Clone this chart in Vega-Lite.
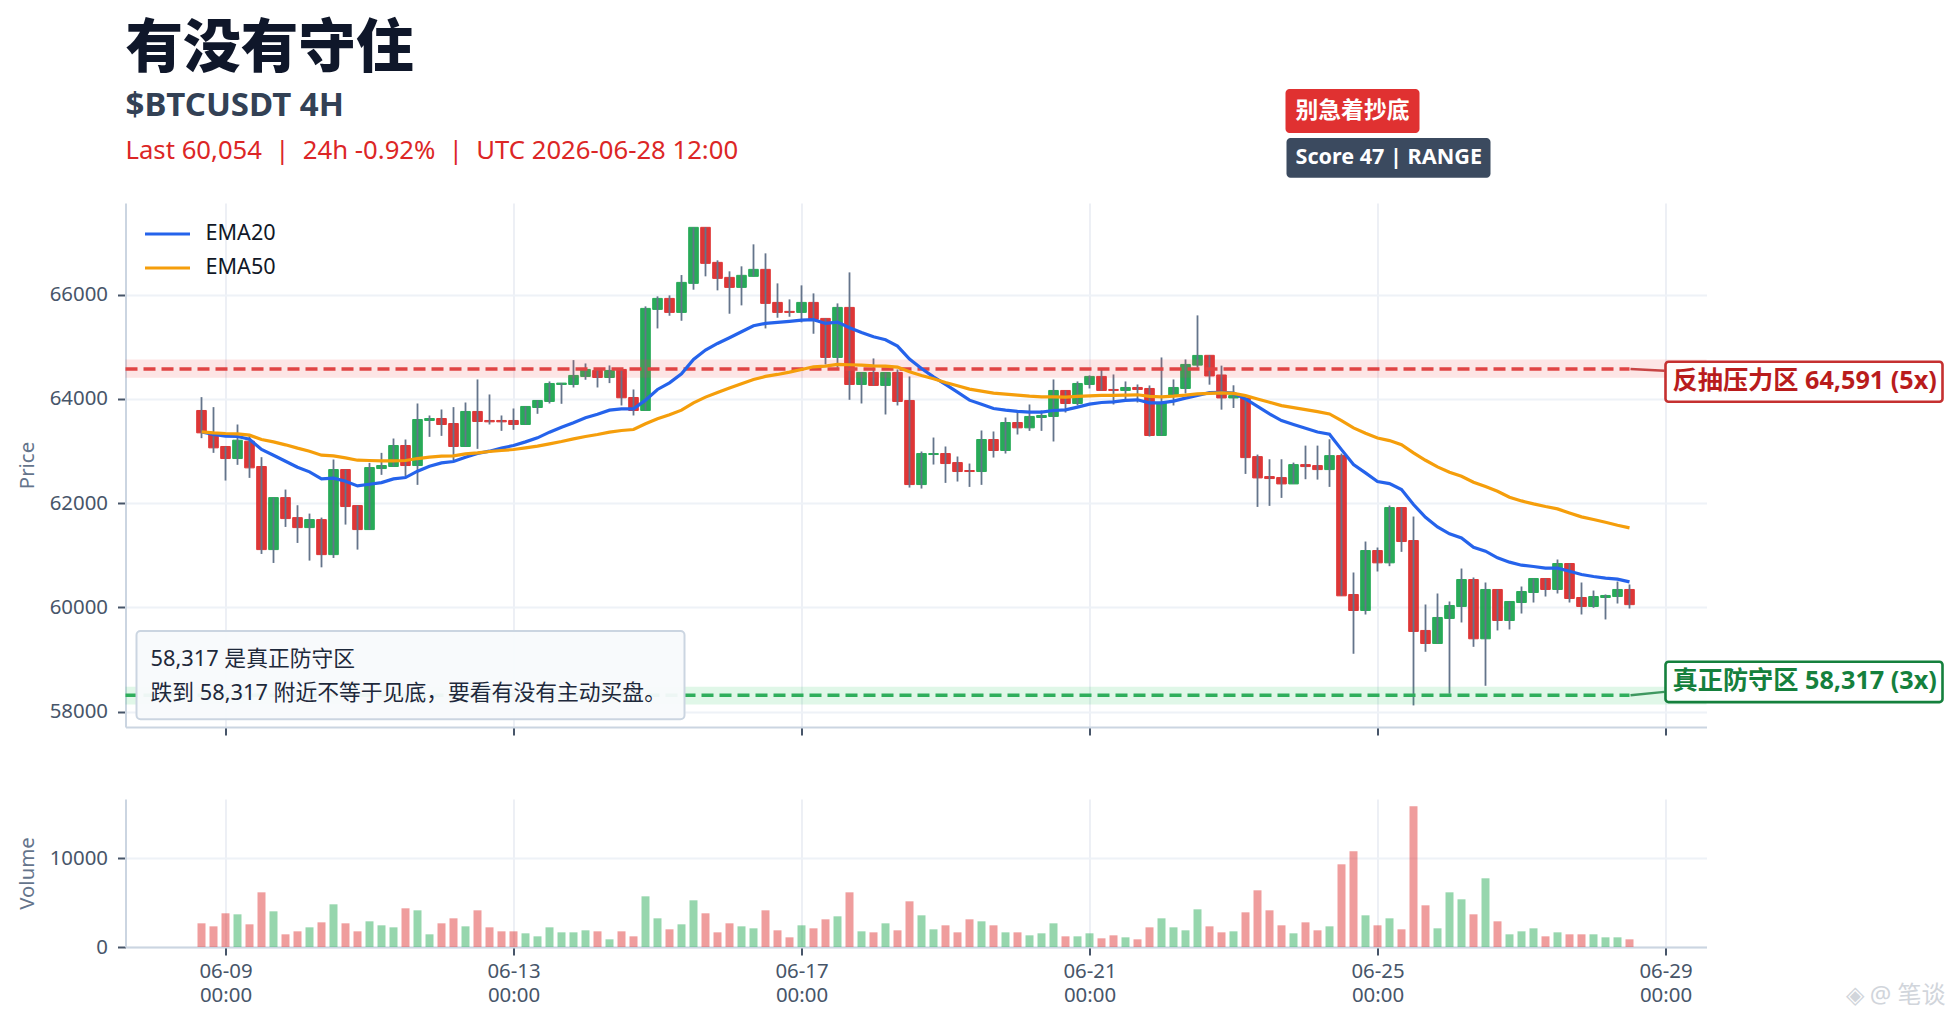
{
"$schema":"https://vega.github.io/schema/vega-lite/v6.json",
"padding":{"left":17.5,"top":20,"right":6,"bottom":17},
"background":"white",
"bounds":"flush",
"spacing":72,
"config":{"view":{"stroke":null},"font":"Noto Sans, Noto Sans CJK SC","text":{"font":"Noto Sans, Noto Sans CJK SC"},
"axis":{"labelFont":"Noto Sans, Noto Sans CJK SC","titleFont":"Noto Sans, Noto Sans CJK SC","labelFontSize":20.4,"labelColor":"#475569","titleFontSize":20.4,"titleColor":"#64748b","titleFontWeight":"normal","domainColor":"#cbd5e1","domainWidth":2,"tickColor":"#475569","tickWidth":2,"tickSize":8,"labelPadding":10}},
"datasets":{"ohlc":[
{"t":"2026-06-08T16:00:00Z","o":63779,"h":64035,"l":63248,"c":63350,"v":2670,"EMA20":63369,"EMA50":63369},
{"t":"2026-06-08T20:00:00Z","o":63350,"h":63843,"l":62966,"c":63062,"v":2330,"EMA20":63318,"EMA50":63350},
{"t":"2026-06-09T00:00:00Z","o":63088,"h":63088,"l":62435,"c":62857,"v":3800,"EMA20":63286,"EMA50":63337},
{"t":"2026-06-09T04:00:00Z","o":62857,"h":63510,"l":62736,"c":63209,"v":3685,"EMA20":63280,"EMA50":63331},
{"t":"2026-06-09T08:00:00Z","o":63190,"h":63318,"l":62486,"c":62678,"v":2557,"EMA20":63228,"EMA50":63305},
{"t":"2026-06-09T12:00:00Z","o":62704,"h":62883,"l":61027,"c":61110,"v":6166,"EMA20":63030,"EMA50":63222},
{"t":"2026-06-09T16:00:00Z","o":61110,"h":62108,"l":60854,"c":62108,"v":4023,"EMA20":62921,"EMA50":63177},
{"t":"2026-06-09T20:00:00Z","o":62108,"h":62262,"l":61545,"c":61705,"v":1429,"EMA20":62806,"EMA50":63120},
{"t":"2026-06-10T00:00:00Z","o":61724,"h":61961,"l":61238,"c":61532,"v":1767,"EMA20":62691,"EMA50":63056},
{"t":"2026-06-10T04:00:00Z","o":61532,"h":61801,"l":60899,"c":61686,"v":2218,"EMA20":62601,"EMA50":62998},
{"t":"2026-06-10T08:00:00Z","o":61686,"h":61724,"l":60770,"c":61014,"v":2782,"EMA20":62467,"EMA50":62921},
{"t":"2026-06-10T12:00:00Z","o":61014,"h":62838,"l":60950,"c":62646,"v":4813,"EMA20":62480,"EMA50":62908},
{"t":"2026-06-10T16:00:00Z","o":62646,"h":62646,"l":61590,"c":61936,"v":2670,"EMA20":62422,"EMA50":62870},
{"t":"2026-06-10T20:00:00Z","o":61955,"h":61955,"l":61110,"c":61494,"v":1767,"EMA20":62332,"EMA50":62825},
{"t":"2026-06-11T00:00:00Z","o":61494,"h":62774,"l":61494,"c":62684,"v":2895,"EMA20":62364,"EMA50":62819},
{"t":"2026-06-11T04:00:00Z","o":62665,"h":62966,"l":62544,"c":62723,"v":2444,"EMA20":62396,"EMA50":62812},
{"t":"2026-06-11T08:00:00Z","o":62704,"h":63241,"l":62704,"c":63107,"v":2218,"EMA20":62467,"EMA50":62812},
{"t":"2026-06-11T12:00:00Z","o":63107,"h":63222,"l":62512,"c":62723,"v":4362,"EMA20":62492,"EMA50":62819},
{"t":"2026-06-11T16:00:00Z","o":62723,"h":63913,"l":62352,"c":63606,"v":4136,"EMA20":62614,"EMA50":62857},
{"t":"2026-06-11T20:00:00Z","o":63587,"h":63683,"l":63273,"c":63625,"v":1429,"EMA20":62710,"EMA50":62883},
{"t":"2026-06-12T00:00:00Z","o":63625,"h":63798,"l":63292,"c":63510,"v":2670,"EMA20":62774,"EMA50":62902},
{"t":"2026-06-12T04:00:00Z","o":63529,"h":63843,"l":62819,"c":63088,"v":3234,"EMA20":62800,"EMA50":62908},
{"t":"2026-06-12T08:00:00Z","o":63088,"h":63932,"l":63088,"c":63760,"v":2330,"EMA20":62883,"EMA50":62947},
{"t":"2026-06-12T12:00:00Z","o":63760,"h":64374,"l":63043,"c":63568,"v":4136,"EMA20":62953,"EMA50":62966},
{"t":"2026-06-12T16:00:00Z","o":63587,"h":64086,"l":63510,"c":63561,"v":2218,"EMA20":62998,"EMA50":62992},
{"t":"2026-06-12T20:00:00Z","o":63587,"h":63683,"l":63388,"c":63561,"v":1767,"EMA20":63056,"EMA50":63011},
{"t":"2026-06-13T00:00:00Z","o":63587,"h":63817,"l":63408,"c":63510,"v":1767,"EMA20":63107,"EMA50":63030},
{"t":"2026-06-13T04:00:00Z","o":63510,"h":63856,"l":63510,"c":63856,"v":1542,"EMA20":63177,"EMA50":63062},
{"t":"2026-06-13T08:00:00Z","o":63836,"h":63971,"l":63715,"c":63971,"v":1203,"EMA20":63254,"EMA50":63094},
{"t":"2026-06-13T12:00:00Z","o":63952,"h":64336,"l":63913,"c":64297,"v":2218,"EMA20":63363,"EMA50":63139},
{"t":"2026-06-13T16:00:00Z","o":64278,"h":64304,"l":63907,"c":64304,"v":1654,"EMA20":63459,"EMA50":63184},
{"t":"2026-06-13T20:00:00Z","o":64278,"h":64745,"l":64220,"c":64451,"v":1654,"EMA20":63542,"EMA50":63235},
{"t":"2026-06-14T00:00:00Z","o":64432,"h":64681,"l":64368,"c":64566,"v":1880,"EMA20":63638,"EMA50":63280},
{"t":"2026-06-14T04:00:00Z","o":64547,"h":64566,"l":64220,"c":64412,"v":1767,"EMA20":63708,"EMA50":63318},
{"t":"2026-06-14T08:00:00Z","o":64412,"h":64643,"l":64304,"c":64547,"v":865,"EMA20":63785,"EMA50":63363},
{"t":"2026-06-14T12:00:00Z","o":64566,"h":64566,"l":63875,"c":64022,"v":1767,"EMA20":63811,"EMA50":63395},
{"t":"2026-06-14T16:00:00Z","o":64028,"h":64182,"l":63683,"c":63779,"v":1203,"EMA20":63811,"EMA50":63414},
{"t":"2026-06-14T20:00:00Z","o":63779,"h":65776,"l":63779,"c":65737,"v":5715,"EMA20":63977,"EMA50":63523},
{"t":"2026-06-15T00:00:00Z","o":65718,"h":65968,"l":65353,"c":65929,"v":3234,"EMA20":64182,"EMA50":63619},
{"t":"2026-06-15T04:00:00Z","o":65929,"h":65987,"l":65596,"c":65660,"v":1993,"EMA20":64310,"EMA50":63696},
{"t":"2026-06-15T08:00:00Z","o":65660,"h":66377,"l":65500,"c":66236,"v":2557,"EMA20":64483,"EMA50":63785},
{"t":"2026-06-15T12:00:00Z","o":66217,"h":67292,"l":66096,"c":67292,"v":5264,"EMA20":64758,"EMA50":63926},
{"t":"2026-06-15T16:00:00Z","o":67292,"h":67292,"l":66352,"c":66601,"v":3800,"EMA20":64937,"EMA50":64035},
{"t":"2026-06-15T20:00:00Z","o":66620,"h":66659,"l":66083,"c":66313,"v":1654,"EMA20":65065,"EMA50":64124},
{"t":"2026-06-16T00:00:00Z","o":66332,"h":66448,"l":65635,"c":66140,"v":2670,"EMA20":65174,"EMA50":64208},
{"t":"2026-06-16T04:00:00Z","o":66140,"h":66544,"l":65795,"c":66371,"v":2330,"EMA20":65289,"EMA50":64291},
{"t":"2026-06-16T08:00:00Z","o":66352,"h":66966,"l":66352,"c":66486,"v":2106,"EMA20":65404,"EMA50":64374},
{"t":"2026-06-16T12:00:00Z","o":66486,"h":66793,"l":65353,"c":65833,"v":4136,"EMA20":65449,"EMA50":64432},
{"t":"2026-06-16T16:00:00Z","o":65852,"h":66217,"l":65558,"c":65660,"v":1880,"EMA20":65468,"EMA50":64470},
{"t":"2026-06-16T20:00:00Z","o":65680,"h":65910,"l":65577,"c":65660,"v":1090,"EMA20":65488,"EMA50":64515},
{"t":"2026-06-17T00:00:00Z","o":65660,"h":66179,"l":65468,"c":65852,"v":2444,"EMA20":65513,"EMA50":64566},
{"t":"2026-06-17T04:00:00Z","o":65852,"h":66025,"l":65251,"c":65526,"v":2106,"EMA20":65520,"EMA50":64617},
{"t":"2026-06-17T08:00:00Z","o":65545,"h":65545,"l":64662,"c":64796,"v":3121,"EMA20":65449,"EMA50":64630},
{"t":"2026-06-17T12:00:00Z","o":64796,"h":65833,"l":64598,"c":65756,"v":3459,"EMA20":65475,"EMA50":64662},
{"t":"2026-06-17T16:00:00Z","o":65756,"h":66428,"l":63984,"c":64278,"v":6166,"EMA20":65366,"EMA50":64656},
{"t":"2026-06-17T20:00:00Z","o":64278,"h":64508,"l":63913,"c":64508,"v":1767,"EMA20":65276,"EMA50":64649},
{"t":"2026-06-18T00:00:00Z","o":64508,"h":64777,"l":64259,"c":64259,"v":1654,"EMA20":65193,"EMA50":64636},
{"t":"2026-06-18T04:00:00Z","o":64259,"h":64508,"l":63702,"c":64508,"v":2670,"EMA20":65136,"EMA50":64630},
{"t":"2026-06-18T08:00:00Z","o":64508,"h":64566,"l":63875,"c":63952,"v":1880,"EMA20":65014,"EMA50":64611},
{"t":"2026-06-18T12:00:00Z","o":63971,"h":64432,"l":62300,"c":62358,"v":5151,"EMA20":64764,"EMA50":64521},
{"t":"2026-06-18T16:00:00Z","o":62358,"h":62992,"l":62281,"c":62953,"v":3572,"EMA20":64585,"EMA50":64451},
{"t":"2026-06-18T20:00:00Z","o":62934,"h":63260,"l":62742,"c":62953,"v":1993,"EMA20":64425,"EMA50":64387},
{"t":"2026-06-19T00:00:00Z","o":62953,"h":63088,"l":62390,"c":62761,"v":2444,"EMA20":64278,"EMA50":64316},
{"t":"2026-06-19T04:00:00Z","o":62780,"h":62896,"l":62416,"c":62608,"v":1654,"EMA20":64131,"EMA50":64252},
{"t":"2026-06-19T08:00:00Z","o":62627,"h":62761,"l":62313,"c":62608,"v":3121,"EMA20":63977,"EMA50":64188},
{"t":"2026-06-19T12:00:00Z","o":62608,"h":63395,"l":62352,"c":63222,"v":2895,"EMA20":63900,"EMA50":64150},
{"t":"2026-06-19T16:00:00Z","o":63222,"h":63376,"l":62876,"c":63011,"v":2444,"EMA20":63817,"EMA50":64112},
{"t":"2026-06-19T20:00:00Z","o":63011,"h":63644,"l":62953,"c":63548,"v":1654,"EMA20":63785,"EMA50":64092},
{"t":"2026-06-20T00:00:00Z","o":63548,"h":63760,"l":63318,"c":63446,"v":1654,"EMA20":63760,"EMA50":64073},
{"t":"2026-06-20T04:00:00Z","o":63446,"h":63894,"l":63388,"c":63664,"v":1316,"EMA20":63747,"EMA50":64054},
{"t":"2026-06-20T08:00:00Z","o":63644,"h":63779,"l":63388,"c":63683,"v":1542,"EMA20":63747,"EMA50":64041},
{"t":"2026-06-20T12:00:00Z","o":63664,"h":64374,"l":63184,"c":64163,"v":2670,"EMA20":63779,"EMA50":64041},
{"t":"2026-06-20T16:00:00Z","o":64163,"h":64163,"l":63740,"c":63913,"v":1203,"EMA20":63792,"EMA50":64035},
{"t":"2026-06-20T20:00:00Z","o":63913,"h":64336,"l":63875,"c":64297,"v":1203,"EMA20":63843,"EMA50":64048},
{"t":"2026-06-21T00:00:00Z","o":64278,"h":64451,"l":64201,"c":64432,"v":1542,"EMA20":63900,"EMA50":64060},
{"t":"2026-06-21T04:00:00Z","o":64432,"h":64566,"l":64163,"c":64163,"v":978,"EMA20":63932,"EMA50":64067},
{"t":"2026-06-21T08:00:00Z","o":64182,"h":64470,"l":63894,"c":64163,"v":1316,"EMA20":63945,"EMA50":64067},
{"t":"2026-06-21T12:00:00Z","o":64163,"h":64336,"l":63971,"c":64220,"v":1090,"EMA20":63971,"EMA50":64073},
{"t":"2026-06-21T16:00:00Z","o":64220,"h":64278,"l":63932,"c":64182,"v":865,"EMA20":63984,"EMA50":64080},
{"t":"2026-06-21T20:00:00Z","o":64201,"h":64259,"l":63280,"c":63299,"v":2218,"EMA20":63926,"EMA50":64048},
{"t":"2026-06-22T00:00:00Z","o":63299,"h":64796,"l":63299,"c":63932,"v":3234,"EMA20":63926,"EMA50":64041},
{"t":"2026-06-22T04:00:00Z","o":64067,"h":64374,"l":63875,"c":64220,"v":2218,"EMA20":63958,"EMA50":64054},
{"t":"2026-06-22T08:00:00Z","o":64201,"h":64758,"l":64105,"c":64662,"v":1880,"EMA20":64016,"EMA50":64073},
{"t":"2026-06-22T12:00:00Z","o":64649,"h":65603,"l":64598,"c":64835,"v":4249,"EMA20":64067,"EMA50":64099},
{"t":"2026-06-22T16:00:00Z","o":64837,"h":64837,"l":64274,"c":64441,"v":2330,"EMA20":64121,"EMA50":64108},
{"t":"2026-06-22T20:00:00Z","o":64460,"h":64639,"l":63795,"c":64019,"v":1654,"EMA20":64128,"EMA50":64115},
{"t":"2026-06-23T00:00:00Z","o":64019,"h":64262,"l":63827,"c":64064,"v":1767,"EMA20":64115,"EMA50":64108},
{"t":"2026-06-23T04:00:00Z","o":64019,"h":64019,"l":62562,"c":62875,"v":3910,"EMA20":64000,"EMA50":64064},
{"t":"2026-06-23T08:00:00Z","o":62894,"h":62933,"l":61929,"c":62485,"v":6392,"EMA20":63859,"EMA50":64000},
{"t":"2026-06-23T12:00:00Z","o":62511,"h":62843,"l":61949,"c":62473,"v":4136,"EMA20":63712,"EMA50":63936},
{"t":"2026-06-23T16:00:00Z","o":62492,"h":62843,"l":62102,"c":62370,"v":2444,"EMA20":63584,"EMA50":63872},
{"t":"2026-06-23T20:00:00Z","o":62370,"h":62779,"l":62370,"c":62741,"v":1542,"EMA20":63508,"EMA50":63834},
{"t":"2026-06-24T00:00:00Z","o":62741,"h":63105,"l":62460,"c":62703,"v":2782,"EMA20":63437,"EMA50":63795},
{"t":"2026-06-24T04:00:00Z","o":62722,"h":63105,"l":62453,"c":62645,"v":1880,"EMA20":63367,"EMA50":63757},
{"t":"2026-06-24T08:00:00Z","o":62645,"h":63227,"l":62313,"c":62913,"v":2330,"EMA20":63322,"EMA50":63712},
{"t":"2026-06-24T12:00:00Z","o":62913,"h":62952,"l":60223,"c":60223,"v":9325,"EMA20":63028,"EMA50":63584},
{"t":"2026-06-24T16:00:00Z","o":60249,"h":60671,"l":59112,"c":59942,"v":10791,"EMA20":62741,"EMA50":63444},
{"t":"2026-06-24T20:00:00Z","o":59942,"h":61265,"l":59865,"c":61092,"v":3572,"EMA20":62581,"EMA50":63342},
{"t":"2026-06-25T00:00:00Z","o":61092,"h":61150,"l":60690,"c":60856,"v":2444,"EMA20":62415,"EMA50":63252},
{"t":"2026-06-25T04:00:00Z","o":60856,"h":61955,"l":60792,"c":61917,"v":3234,"EMA20":62377,"EMA50":63201},
{"t":"2026-06-25T08:00:00Z","o":61917,"h":61917,"l":61067,"c":61265,"v":1993,"EMA20":62262,"EMA50":63124},
{"t":"2026-06-25T12:00:00Z","o":61284,"h":61744,"l":58121,"c":59540,"v":15867,"EMA20":61974,"EMA50":62965},
{"t":"2026-06-25T16:00:00Z","o":59559,"h":60057,"l":59150,"c":59309,"v":4700,"EMA20":61731,"EMA50":62824},
{"t":"2026-06-25T20:00:00Z","o":59309,"h":60268,"l":59309,"c":59808,"v":2106,"EMA20":61546,"EMA50":62696},
{"t":"2026-06-26T00:00:00Z","o":59789,"h":60115,"l":58345,"c":60038,"v":6166,"EMA20":61412,"EMA50":62594},
{"t":"2026-06-26T04:00:00Z","o":60019,"h":60747,"l":59712,"c":60536,"v":5377,"EMA20":61335,"EMA50":62517},
{"t":"2026-06-26T08:00:00Z","o":60536,"h":60575,"l":59245,"c":59399,"v":3685,"EMA20":61156,"EMA50":62402},
{"t":"2026-06-26T12:00:00Z","o":59399,"h":60479,"l":58498,"c":60345,"v":7746,"EMA20":61080,"EMA50":62319},
{"t":"2026-06-26T16:00:00Z","o":60345,"h":60345,"l":59559,"c":59750,"v":2895,"EMA20":60952,"EMA50":62230},
{"t":"2026-06-26T20:00:00Z","o":59750,"h":60115,"l":59578,"c":60115,"v":1429,"EMA20":60869,"EMA50":62115},
{"t":"2026-06-27T00:00:00Z","o":60095,"h":60402,"l":59884,"c":60306,"v":1767,"EMA20":60811,"EMA50":62044},
{"t":"2026-06-27T04:00:00Z","o":60287,"h":60556,"l":60095,"c":60556,"v":2106,"EMA20":60786,"EMA50":61987},
{"t":"2026-06-27T08:00:00Z","o":60556,"h":60556,"l":60210,"c":60345,"v":1203,"EMA20":60754,"EMA50":61936},
{"t":"2026-06-27T12:00:00Z","o":60345,"h":60920,"l":60268,"c":60843,"v":1654,"EMA20":60754,"EMA50":61891},
{"t":"2026-06-27T16:00:00Z","o":60843,"h":60843,"l":60095,"c":60172,"v":1429,"EMA20":60696,"EMA50":61814},
{"t":"2026-06-27T20:00:00Z","o":60191,"h":60479,"l":59865,"c":60019,"v":1429,"EMA20":60632,"EMA50":61738},
{"t":"2026-06-28T00:00:00Z","o":60019,"h":60325,"l":59993,"c":60210,"v":1429,"EMA20":60594,"EMA50":61687},
{"t":"2026-06-28T04:00:00Z","o":60191,"h":60249,"l":59770,"c":60230,"v":1090,"EMA20":60562,"EMA50":61635},
{"t":"2026-06-28T08:00:00Z","o":60210,"h":60498,"l":60076,"c":60345,"v":1090,"EMA20":60543,"EMA50":61578},
{"t":"2026-06-28T12:00:00Z","o":60345,"h":60441,"l":59980,"c":60054,"v":865,"EMA20":60492,"EMA50":61527}
],
"bands":[
{"x":"2026-06-07T14:40:00Z","x2":"2026-06-29T13:40:00Z","y":64758,"y2":64406,"kind":"res"},
{"x":"2026-06-07T14:40:00Z","x2":"2026-06-29T13:40:00Z","y":58479,"y2":58140,"kind":"sup"}
],
"levels":[
{"x":"2026-06-07T14:40:00Z","x2":"2026-06-28T12:00:00Z","y":64575,"kind":"res"},
{"x":"2026-06-07T14:40:00Z","x2":"2026-06-28T12:00:00Z","y":58317,"kind":"sup"}
],
"connectors":[
{"x":"2026-06-28T12:20:00Z","x2":"2026-06-28T23:40:00Z","y":64575,"y2":64540,"kind":"res"},
{"x":"2026-06-28T12:20:00Z","x2":"2026-06-28T23:40:00Z","y":58317,"y2":58380,"kind":"sup"}
],
"labelBoxes":[
{"x":"2026-06-29T00:00:00Z","x2":"2026-07-02T20:20:00Z","y":64715,"y2":63947,"kind":"res"},
{"x":"2026-06-29T00:00:00Z","x2":"2026-07-02T20:20:00Z","y":58958,"y2":58185,"kind":"sup"}
],
"labelTexts":[
{"x":"2026-06-29T02:20:00Z","y":64344,"text":"反抽压力区 64,591 (5x)","kind":"res"},
{"x":"2026-06-29T02:20:00Z","y":58588,"text":"真正防守区 58,317 (3x)","kind":"sup"}
]
},
"vconcat":[
{"width":1581,"height":524,"layer":[
{"data":{"name":"ohlc"},"mark":{"type":"bar","width":9.6,"strokeWidth":1,"opacity":0.92},
"encoding":{
"x":{"field":"t","type":"temporal","title":null,"scale":{"type":"utc","nice":false,"padding":0,"domain":[{"utc":true,"year":2026,"month":6,"date":7,"hours":14,"minutes":40},{"utc":true,"year":2026,"month":6,"date":29,"hours":13,"minutes":40}]},
"axis":{"labels":false,"grid":true,"gridColor":"#e9ecf3","gridWidth":1.6,"values":[{"utc":true,"year":2026,"month":6,"date":9},{"utc":true,"year":2026,"month":6,"date":13},{"utc":true,"year":2026,"month":6,"date":17},{"utc":true,"year":2026,"month":6,"date":21},{"utc":true,"year":2026,"month":6,"date":25},{"utc":true,"year":2026,"month":6,"date":29}]}},
"y":{"field":"o","type":"quantitative","title":"Price","scale":{"domain":[57707,67759],"nice":false,"zero":false},"axis":{"values":[58000,60000,62000,64000,66000],"format":"d","grid":true,"gridColor":"#eef2f7","gridWidth":2,"titleX":-88}},
"y2":{"field":"c"},
"color":{"condition":{"test":"datum.c>=datum.o","value":"#16a34a"},"value":"#dc2626"},
"stroke":{"condition":{"test":"datum.c>=datum.o","value":"#16a34a"},"value":"#dc2626"}}},
{"data":{"name":"ohlc"},"mark":{"type":"rule","color":"#64748b","strokeWidth":1.8},
"encoding":{"x":{"field":"t","type":"temporal","title":null},"y":{"field":"l","type":"quantitative","title":"Price"},"y2":{"field":"h"}}},
{"data":{"name":"bands"},"mark":{"type":"rect","strokeWidth":1,"opacity":0.14},
"encoding":{"x":{"field":"x","type":"temporal","title":null},"x2":{"field":"x2"},"y":{"field":"y","type":"quantitative","title":"Price"},"y2":{"field":"y2"},
"color":{"condition":{"test":"datum.kind==='res'","value":"#ef4444"},"value":"#22c55e"}}},
{"data":{"name":"levels"},"mark":{"type":"rule","strokeWidth":3.4,"strokeDash":[12,6]},
"encoding":{"x":{"field":"x","type":"temporal","title":null},"x2":{"field":"x2"},"y":{"field":"y","type":"quantitative","title":"Price"},
"color":{"condition":{"test":"datum.kind==='res'","value":"#e04444"},"value":"#2fae5c"}}},
{"data":{"name":"ohlc"},"transform":[{"fold":["EMA20","EMA50"],"as":["series","ema"]}],"mark":{"type":"line","strokeWidth":3.2,"interpolate":"linear"},
"encoding":{"x":{"field":"t","type":"temporal","title":null},"y":{"field":"ema","type":"quantitative","title":"Price"},
"color":{"field":"series","type":"nominal","scale":{"domain":["EMA20","EMA50"],"range":["#2563eb","#f59e0b"]},
"legend":{"orient":"none","legendX":18,"legendY":14,"title":null,"symbolType":"stroke","symbolSize":2025,"symbolStrokeWidth":3,"labelFontSize":21.6,"labelColor":"#111827","labelOffset":14,"clipHeight":34,"rowPadding":0,"labelFont":"Noto Sans"}}}},
{"data":{"name":"connectors"},"mark":{"type":"rule","strokeWidth":2.4,"opacity":0.8},
"encoding":{"x":{"field":"x","type":"temporal","title":null},"x2":{"field":"x2"},"y":{"field":"y","type":"quantitative","title":"Price"},"y2":{"field":"y2"},
"color":{"condition":{"test":"datum.kind==='res'","value":"#b91c1c"},"value":"#15803d"}}},
{"data":{"name":"labelBoxes"},"mark":{"type":"rect","fill":"#ffffff","fillOpacity":0.92,"strokeWidth":2.6,"cornerRadius":3},
"encoding":{"x":{"field":"x","type":"temporal","title":null},"x2":{"field":"x2"},"y":{"field":"y","type":"quantitative","title":"Price"},"y2":{"field":"y2"},
"stroke":{"condition":{"test":"datum.kind==='res'","value":"#c53030"},"value":"#15803d"}}},
{"data":{"name":"labelTexts"},"mark":{"type":"text","align":"left","baseline":"middle","fontSize":25.2,"fontWeight":"bold"},
"encoding":{"x":{"field":"x","type":"temporal","title":null},"y":{"field":"y","type":"quantitative","title":"Price"},"text":{"field":"text"},
"color":{"condition":{"test":"datum.kind==='res'","value":"#b91c1c"},"value":"#15803d"}}},
{"data":{"values":[{"x":"2026-06-07T18:20:00Z","x2":"2026-06-15T09:00:00Z","y":59548,"y2":57858}]},"mark":{"type":"rect","fill":"#f8fafc","fillOpacity":0.95,"stroke":"#cbd5e1","strokeWidth":2,"cornerRadius":4},
"encoding":{"x":{"field":"x","type":"temporal","title":null},"x2":{"field":"x2"},"y":{"field":"y","type":"quantitative","title":"Price"},"y2":{"field":"y2"}}},
{"data":{"values":[{"x":"2026-06-07T23:00:00Z","y":59011,"text":"58,317 是真正防守区"},{"x":"2026-06-07T23:00:00Z","y":58359,"text":"跌到 58,317 附近不等于见底，要看有没有主动买盘。"}]},"mark":{"type":"text","align":"left","baseline":"middle","fontSize":21.8,"color":"#1e293b"},
"encoding":{"x":{"field":"x","type":"temporal","title":null},"y":{"field":"y","type":"quantitative","title":"Price"},"text":{"field":"text"}}},
{"data":{"values":[{"x":"2026-06-23T17:20:00Z","x2":"2026-06-25T14:00:00Z","y":69947,"y2":69103,"kind":"a"},{"x":"2026-06-23T17:40:00Z","x2":"2026-06-26T13:40:00Z","y":69008,"y2":68241,"kind":"b"}]},"mark":{"type":"rect","cornerRadius":4},
"encoding":{"x":{"field":"x","type":"temporal","title":null},"x2":{"field":"x2"},"y":{"field":"y","type":"quantitative","title":"Price"},"y2":{"field":"y2"},
"color":{"condition":{"test":"datum.kind==='a'","value":"#e03131"},"value":"#3b4a5f"}}},
{"data":{"values":[{"x":"2026-06-23T20:40:00Z","y":69525,"text":"别急着抄底"}]},"mark":{"type":"text","align":"left","baseline":"middle","fontSize":22.8,"fontWeight":"bold","color":"#ffffff"},
"encoding":{"x":{"field":"x","type":"temporal","title":null},"y":{"field":"y","type":"quantitative","title":"Price"},"text":{"field":"text"}}},
{"data":{"values":[{"x":"2026-06-23T20:40:00Z","y":68623,"text":"Score 47 | RANGE"}]},"mark":{"type":"text","align":"left","baseline":"middle","fontSize":21.6,"fontWeight":"bold","color":"#ffffff"},
"encoding":{"x":{"field":"x","type":"temporal","title":null},"y":{"field":"y","type":"quantitative","title":"Price"},"text":{"field":"text"}}},
{"data":{"values":[{"x":"2026-06-07T14:40:00Z","y":70695,"text":"有没有守住"}]},"mark":{"type":"text","align":"left","baseline":"middle","fontSize":57.6,"fontWeight":900,"color":"#0f172a"},
"encoding":{"x":{"field":"x","type":"temporal","title":null},"y":{"field":"y","type":"quantitative","title":"Price"},"text":{"field":"text"}}},
{"data":{"values":[{"x":"2026-06-07T14:40:00Z","y":69622,"text":"$BTCUSDT 4H"}]},"mark":{"type":"text","align":"left","baseline":"middle","fontSize":33,"fontWeight":"bold","color":"#334155"},
"encoding":{"x":{"field":"x","type":"temporal","title":null},"y":{"field":"y","type":"quantitative","title":"Price"},"text":{"field":"text"}}},
{"data":{"values":[{"x":"2026-06-07T14:40:00Z","y":68757,"text":"Last 60,054\u00a0\u00a0|\u00a0\u00a024h -0.92%\u00a0\u00a0|\u00a0\u00a0UTC 2026-06-28 12:00"}]},"mark":{"type":"text","align":"left","baseline":"middle","fontSize":25.7,"color":"#dc2626"},
"encoding":{"x":{"field":"x","type":"temporal","title":null},"y":{"field":"y","type":"quantitative","title":"Price"},"text":{"field":"text"}}}
]},
{"width":1581,"height":148,"layer":[
{"data":{"name":"ohlc"},"mark":{"type":"bar","width":8,"opacity":0.45},
"encoding":{
"x":{"field":"t","type":"temporal","title":null,"scale":{"type":"utc","nice":false,"padding":0,"domain":[{"utc":true,"year":2026,"month":6,"date":7,"hours":14,"minutes":40},{"utc":true,"year":2026,"month":6,"date":29,"hours":13,"minutes":40}]},
"axis":{"grid":true,"gridColor":"#e9ecf3","gridWidth":1.6,"labelPadding":6,"labelLineHeight":24,"labelExpr":"[utcFormat(datum.value,'%m-%d'),utcFormat(datum.value,'%H:%M')]","values":[{"utc":true,"year":2026,"month":6,"date":9},{"utc":true,"year":2026,"month":6,"date":13},{"utc":true,"year":2026,"month":6,"date":17},{"utc":true,"year":2026,"month":6,"date":21},{"utc":true,"year":2026,"month":6,"date":25},{"utc":true,"year":2026,"month":6,"date":29}]}},
"y":{"field":"v","type":"quantitative","title":"Volume","scale":{"domain":[0,16690],"nice":false},"axis":{"values":[0,10000],"format":"d","grid":true,"gridColor":"#eef2f7","gridWidth":2,"titleX":-88}},
"color":{"condition":{"test":"datum.c>=datum.o","value":"#16a34a"},"value":"#dc2626"}}},
{"data":{"values":[{"x":"2026-07-01T12:00:00Z","y":-5500,"text":"◈ @ 笔谈"}]},"mark":{"type":"text","align":"left","baseline":"middle","fontSize":24,"color":"#d1d5db"},
"encoding":{"x":{"field":"x","type":"temporal","title":null},"y":{"field":"y","type":"quantitative","title":"Volume"},"text":{"field":"text"}}}
]}
]
}
